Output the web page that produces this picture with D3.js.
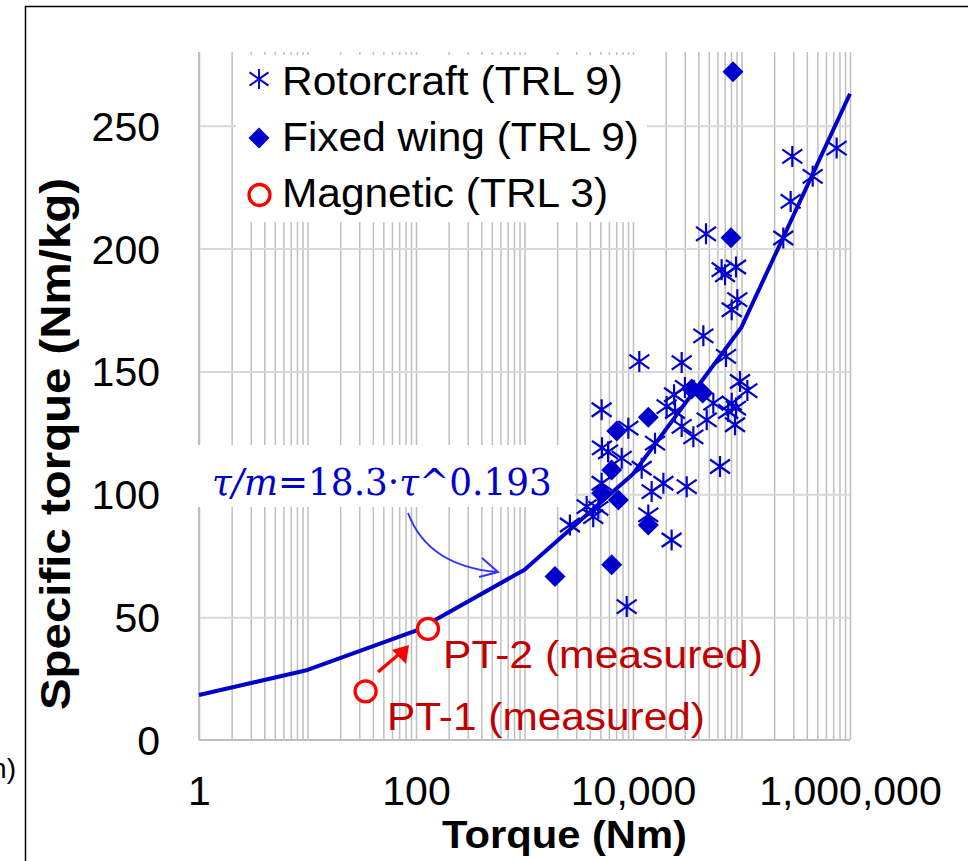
<!DOCTYPE html>
<html><head><meta charset="utf-8">
<script src="https://cdn.jsdelivr.net/npm/d3@7"></script>
<style>body{margin:0;background:#fff} svg{display:block}</style>
</head><body>
<svg id="chart" width="968" height="861"></svg>
<script>
// ---------- data ----------
const rotorTorque = [11430, 5140, 9060, 5180, 15960, 5890, 7870, 47100, 242700, 65600, 70500, 89000, 91500, 81200, 44500, 28100, 72000, 96800, 113200, 23900, 24400, 30100, 55000, 81200, 89000, 47800, 87100, 75500, 28100, 36000, 63400, 19050, 31250, 22700, 20400, 5140, 12020, 14860, 3740, 4300, 4790, 2620, 13840, 8750, 293800, 283800, 452900, 753400];
const rotorSpecific = [154.0, 134.4, 126.9, 118.9, 120.8, 117.3, 114.7, 206.0, 204.3, 191.4, 189.3, 192.5, 179.2, 175.1, 164.5, 153.6, 156.1, 145.9, 142.2, 140.5, 133.7, 143.5, 137.1, 137.1, 135.1, 130.3, 128.3, 133.7, 127.6, 123.4, 111.3, 104.5, 103.1, 81.4, 135.7, 104.5, 110.6, 101.1, 95.0, 90.9, 94.3, 87.5, 91.6, 54.3, 237.5, 219.2, 229.4, 240.9];
const fixedTorque = [83500, 80000, 13840, 7080, 34750, 43900, 6360, 5140, 7330, 13840, 6360, 1910];
const fixedSpecific = [272.0, 204.4, 131.4, 125.8, 142.8, 141.2, 109.9, 100.4, 97.7, 87.5, 71.3, 66.5];
const magneticTorque = [34.3, 129];
const magneticSpecific = [19.8, 45.2];
const magneticLabels = ["PT-1 (measured)", "PT-2 (measured)"];
const fitTorque = [1, 10, 100, 1000, 10000, 100000, 1000000];
const fitSpecific = [18.3, 28.5, 44.5, 69.3, 108.3, 168, 263];
const xTickValues = [1, 100, 10000, 1000000];
const yTickValues = [0, 50, 100, 150, 200, 250];
const legendLabels = ["Rotorcraft (TRL 9)", "Fixed wing (TRL 9)", "Magnetic (TRL 3)"];
const equationParts = [["τ/m", true], ["=18.3·", false], ["τ", true], ["^0.193", false]];
const xTitle = "Torque (Nm)";
const yTitle = "Specific torque (Nm/kg)";

// ---------- setup ----------
const svg = d3.select("#chart");
const FONT = "'Liberation Sans', Arial, sans-serif";
const BLUE = "#0000CC";
const x = d3.scaleLog().domain([1, 1e6]).range([199, 850]);
const y = d3.scaleLinear().domain([0, 280]).range([740, 52]);
const [x0, x1] = x.range();
const [yb, yt] = y.range();

// outer frame fragment
svg.append("line").attr("x1", 25.5).attr("x2", 25.5).attr("y1", 6).attr("y2", 861).attr("stroke", "#000").attr("stroke-width", 1.5);
svg.append("line").attr("x1", 25).attr("x2", 968).attr("y1", 6.5).attr("y2", 6.5).attr("stroke", "#000").attr("stroke-width", 1.5);
svg.append("text").attr("x", 16).attr("y", 778).attr("text-anchor", "end")
  .attr("font-family", FONT).attr("font-size", 28).text("n)");

// vertical grid (log minor ticks)
const vg = svg.append("g").attr("transform", `translate(0,${yb})`)
  .call(d3.axisBottom(x).tickValues(x.ticks()).tickSize(-(yb - yt)).tickFormat(""));
vg.select(".domain").remove();
vg.selectAll("text").remove();
vg.selectAll("line").attr("stroke", "#bfbfbf").attr("stroke-width", 1.5);

// horizontal grid
const hg = svg.append("g").attr("transform", `translate(${x0},0)`)
  .call(d3.axisLeft(y).tickValues(yTickValues.filter(d => d > 0)).tickSize(-(x1 - x0)).tickFormat(""));
hg.select(".domain").remove();
hg.selectAll("text").remove();
hg.selectAll("line").attr("stroke", "#d9d9d9").attr("stroke-width", 2);

// axis lines
svg.append("line").attr("x1", x0).attr("x2", x1).attr("y1", yb).attr("y2", yb).attr("stroke", "#bfbfbf").attr("stroke-width", 2);
svg.append("line").attr("x1", x0).attr("x2", x0).attr("y1", yt).attr("y2", yb).attr("stroke", "#bfbfbf").attr("stroke-width", 2);

// tick labels
const xa = svg.append("g").attr("transform", `translate(0,${yb})`)
  .call(d3.axisBottom(x).tickValues(xTickValues).tickSize(0).tickPadding(0).tickFormat(d3.format(",")));
xa.select(".domain").remove();
xa.selectAll("text").attr("font-family", FONT).attr("font-size", 41).attr("fill", "#000").attr("dy", null).attr("y", 65);

const ya = svg.append("g").attr("transform", `translate(160,0)`)
  .call(d3.axisLeft(y).tickValues(yTickValues).tickSize(0).tickPadding(0));
ya.select(".domain").remove();
ya.selectAll("text").attr("font-family", FONT).attr("font-size", 41).attr("fill", "#000").attr("dy", "0.355em").attr("x", 0);

// axis titles
svg.append("text").attr("x", 442).attr("y", 848).attr("font-family", FONT).attr("font-weight", "bold")
  .attr("font-size", 38).attr("textLength", 245).attr("lengthAdjust", "spacingAndGlyphs").text(xTitle);
svg.append("text").attr("transform", "translate(70,710) rotate(-90)").attr("font-family", FONT).attr("font-weight", "bold")
  .attr("font-size", 43).attr("textLength", 532).attr("lengthAdjust", "spacingAndGlyphs").text(yTitle);

// legend box
svg.append("rect").attr("x", 236).attr("y", 55).attr("width", 411).attr("height", 167).attr("fill", "#fff");
// equation box
svg.append("rect").attr("x", 190).attr("y", 445).attr("width", 385).attr("height", 62).attr("fill", "#fff");

// marker shapes
const starPath = "M0,-10.5V10.5M-10,-7L10,7M-10,7L10,-7";
const diamondPath = "M0,-10.5L10.5,0L0,10.5L-10.5,0Z";

// trend line
const fit = fitTorque.map((t, i) => ({t, v: fitSpecific[i]}));
svg.append("path").datum(fit)
  .attr("d", d3.line().x(d => x(d.t)).y(d => y(d.v)))
  .attr("fill", "none").attr("stroke", BLUE).attr("stroke-width", 4).attr("stroke-linejoin", "round");

// rotorcraft stars
svg.append("g").selectAll("path").data(rotorTorque.map((t, i) => ({t, v: rotorSpecific[i]})))
  .join("path").attr("d", starPath)
  .attr("transform", d => `translate(${x(d.t)},${y(d.v)})`)
  .attr("fill", "none").attr("stroke", BLUE).attr("stroke-width", 2.2);

// fixed wing diamonds
svg.append("g").selectAll("path").data(fixedTorque.map((t, i) => ({t, v: fixedSpecific[i]})))
  .join("path").attr("d", diamondPath)
  .attr("transform", d => `translate(${x(d.t)},${y(d.v)})`)
  .attr("fill", BLUE);

// magnetic circles
const mag = magneticTorque.map((t, i) => ({t, v: magneticSpecific[i], label: magneticLabels[i]}));
svg.append("g").selectAll("circle").data(mag).join("circle")
  .attr("cx", d => x(d.t)).attr("cy", d => y(d.v)).attr("r", 10.5)
  .attr("fill", "#fff").attr("stroke", "#ff0000").attr("stroke-width", 3.3);

// magnetic labels
const labelPos = [{x: 387, y: 730, w: 318}, {x: 443, y: 668, w: 320}];
svg.append("g").selectAll("text").data(mag).join("text")
  .attr("x", (d, i) => labelPos[i].x).attr("y", (d, i) => labelPos[i].y)
  .attr("textLength", (d, i) => labelPos[i].w).attr("lengthAdjust", "spacingAndGlyphs")
  .attr("font-family", FONT).attr("font-size", 39).attr("fill", "#C00000").text(d => d.label);

// red arrow PT-1 -> PT-2
svg.append("line").attr("x1", 378).attr("y1", 672).attr("x2", 398).attr("y2", 655)
  .attr("stroke", "#ff0000").attr("stroke-width", 3.5);
svg.append("path").attr("d", "M409,645L392,650L406,664Z").attr("fill", "#ff0000");

// equation label (sequential pieces, then scaled to target width)
const eqG = svg.append("g");
const eqInner = eqG.append("g");
let cursor = 0;
equationParts.forEach(([txt, ital]) => {
  const t = eqInner.append("text").attr("x", cursor).attr("y", 0)
    .attr("font-family", "'DejaVu Serif', 'Liberation Serif', serif").attr("font-size", 38)
    .attr("font-style", ital ? "italic" : "normal").attr("fill", BLUE).text(txt);
  cursor += t.node().getComputedTextLength();
});
const eqScale = 340 / cursor;
eqG.attr("transform", `translate(212,495) scale(${eqScale},1)`);

// curved arrow
svg.append("path").attr("d", "M408,513 Q428,566 497,572").attr("fill", "none").attr("stroke", "#3333ff").attr("stroke-width", 2);
svg.append("path").attr("d", "M482,558L498,572L479,577").attr("fill", "none").attr("stroke", "#3333ff").attr("stroke-width", 2);

// legend entries
const legendRows = [95, 151, 207];
const legendW = [341, 357, 326];
const lg = svg.append("g");
legendLabels.forEach((lab, i) => {
  lg.append("text").attr("x", 282).attr("y", legendRows[i]).attr("font-family", FONT).attr("font-size", 40)
    .attr("textLength", legendW[i]).attr("lengthAdjust", "spacingAndGlyphs").attr("fill", "#000").text(lab);
});
lg.append("path").attr("d", starPath).attr("transform", "translate(259,79) scale(0.95)").attr("fill", "none").attr("stroke", BLUE).attr("stroke-width", 2);
lg.append("path").attr("d", diamondPath).attr("transform", "translate(259,138)").attr("fill", BLUE);
lg.append("circle").attr("cx", 259.5).attr("cy", 195).attr("r", 10.5).attr("fill", "#fff").attr("stroke", "#ff0000").attr("stroke-width", 3.3);
</script>
</body></html>
